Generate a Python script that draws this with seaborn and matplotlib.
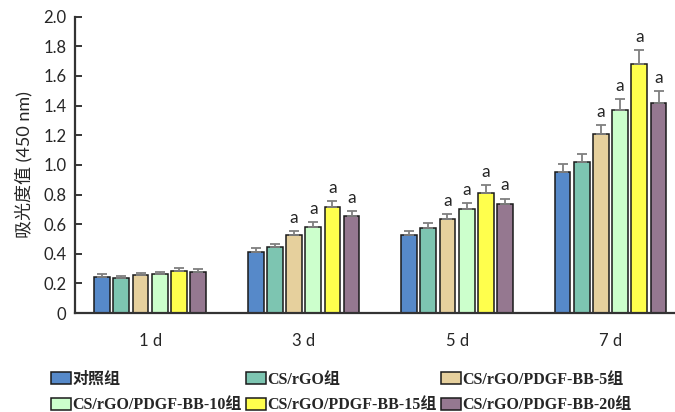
import numpy as np
import pandas as pd
import seaborn as sns
import matplotlib.pyplot as plt

days = ["1 d", "3 d", "5 d", "7 d"]
groups = ["对照组", "CS/rGO组", "CS/rGO/PDGF-BB-5组",
          "CS/rGO/PDGF-BB-10组", "CS/rGO/PDGF-BB-15组", "CS/rGO/PDGF-BB-20组"]
colors = ["#5689C9", "#7DC5B1", "#E6D09D", "#CCFFCC", "#FFFF4D", "#957890"]

# mean absorbance per group (rows) and day (columns)
means = [
    [0.247, 0.415, 0.524, 0.955],
    [0.236, 0.445, 0.573, 1.022],
    [0.258, 0.526, 0.634, 1.209],
    [0.265, 0.584, 0.705, 1.373],
    [0.287, 0.717, 0.813, 1.683],
    [0.276, 0.658, 0.735, 1.420],
]
sds = [
    [0.015, 0.023, 0.031, 0.048],
    [0.014, 0.024, 0.034, 0.054],
    [0.013, 0.029, 0.034, 0.059],
    [0.015, 0.032, 0.039, 0.072],
    [0.018, 0.038, 0.050, 0.090],
    [0.021, 0.030, 0.038, 0.080],
]
# significance marks ("a") per group and day
marks = [
    [0, 0, 0, 0],
    [0, 0, 0, 0],
    [0, 1, 1, 1],
    [0, 1, 1, 1],
    [0, 1, 1, 1],
    [0, 1, 1, 1],
]

rows = []
for g, m_row, s_row, k_row in zip(groups, means, sds, marks):
    for d, m, s, k in zip(days, m_row, s_row, k_row):
        rows.append((d, g, m, s, k))
df = pd.DataFrame(rows, columns=["day", "group", "value", "sd", "mark"])

sns.set_style("white")
plt.rcParams["font.family"] = ["Lato", "Noto Sans CJK SC", "DejaVu Sans"]

fig = plt.figure(figsize=(6.75, 4.12), dpi=100)
ax = fig.add_axes([0.111, 0.240, 0.889, 0.7195])

sns.barplot(data=df, x="day", y="value", hue="group", order=days,
            hue_order=groups, palette=colors, saturation=1, errorbar=None,
            width=0.75, gap=0.18, edgecolor="#1a1a1a", linewidth=1.1, ax=ax,
            legend=True)

# error bars and letters on top of each bar
bar_groups = list(ax.containers)
for gi, cont in enumerate(bar_groups):
    sub = df[df["group"] == groups[gi]].set_index("day").loc[days]
    for bar, (_, r) in zip(cont.patches, sub.iterrows()):
        x = bar.get_x() + bar.get_width() / 2
        top = bar.get_height()
        ax.errorbar(x, top, yerr=[[0], [r["sd"]]], color="#7f7f7f",
                    elinewidth=1.3, capsize=3.5, capthick=1.3, zorder=1)
        if r["mark"]:
            ax.text(x, top + r["sd"] + 0.035, "a", ha="center", va="bottom",
                    fontsize=12.5)

ax.set_ylim(0, 2.0)
ax.set_xlim(-0.49, 3.42)
ax.set_yticks(np.arange(0, 2.01, 0.2))
ax.set_yticklabels(["0"] + [f"{v:.1f}" for v in np.arange(0.2, 2.01, 0.2)])
ax.tick_params(axis="y", direction="in", length=5, width=1.3, labelsize=12,
               left=True, pad=6)
ax.tick_params(axis="x", length=0, labelsize=12, pad=14)
ax.set_xlabel("")
ax.set_ylabel("吸光度值 (450 nm)", fontsize=13, labelpad=8)
sns.despine(ax=ax, top=True, right=True)
for sp in ["left", "bottom"]:
    ax.spines[sp].set_color("#333333")
    ax.spines[sp].set_linewidth(1.6)

handles, labels = ax.get_legend_handles_labels()
ax.get_legend().remove()
order = [0, 3, 1, 4, 2, 5]
fig.legend([handles[i] for i in order], [labels[i] for i in order],
           loc="upper left", bbox_to_anchor=(0.076, 0.098), ncol=3,
           frameon=False, borderpad=0, borderaxespad=0, handlelength=1.25,
           handleheight=0.8, handletextpad=0.05, columnspacing=0.3,
           labelspacing=0.6,
           prop={"family": ["Liberation Serif", "Noto Sans CJK SC"],
                 "weight": "bold", "size": 11.5})

fig.savefig("out.png", dpi=100)
